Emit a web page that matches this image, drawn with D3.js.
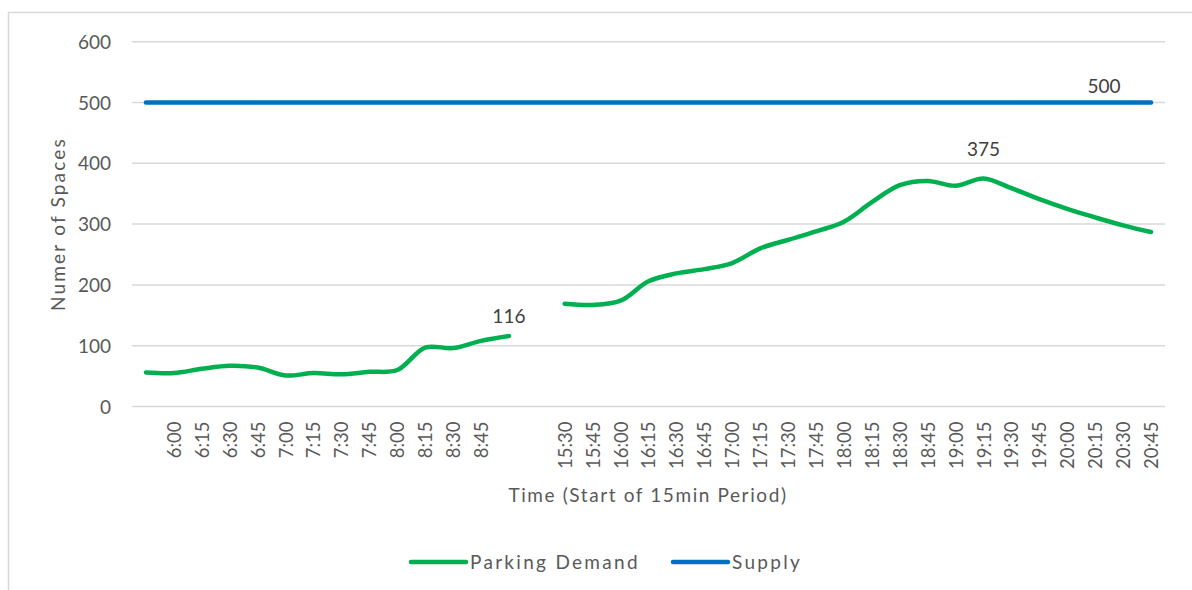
<!DOCTYPE html>
<html><head><meta charset="utf-8">
<script src="https://cdn.jsdelivr.net/npm/d3@7"></script>
<style>
html,body{margin:0;padding:0;background:#fff;}
svg text{font-family:"Lato","Noto Sans",sans-serif;fill:#595959;}
</style></head>
<body>
<svg id="c" width="1192" height="590"></svg>
<script>
const tickLabels = ["", "6:00","6:15","6:30","6:45","7:00","7:15","7:30","7:45","8:00","8:15","8:30","8:45", "", "",
  "15:30","15:45","16:00","16:15","16:30","16:45","17:00","17:15","17:30","17:45","18:00","18:15","18:30","18:45",
  "19:00","19:15","19:30","19:45","20:00","20:15","20:30","20:45"];
const demand = [56,55,62,67,64,51,55,53,57,60,97,96,108,116, null,
  169,167,174,206,219,226,236,260,274,288,304,336,364,371,363,375,359,341,325,311,298,287];
const supply = tickLabels.map(() => 500);
const yTicks = [0,100,200,300,400,500,600];
const dataLabels = [{series:"demand", index:13, text:"116"}, {series:"demand", index:30, text:"375"}, {series:"supply", index:36, text:"500"}];

const svg = d3.select("#c");
svg.append("rect").attr("x",8.5).attr("y",12.5).attr("width",1200).attr("height",600)
  .attr("fill","none").attr("stroke","#d9d9d9").attr("stroke-width",1.5);

const x = d3.scalePoint().domain(d3.range(tickLabels.length)).range([132,1165]).padding(0.5);
const y = d3.scaleLinear().domain([0,600]).range([406.5,41.7]);

// gridlines
svg.append("g").selectAll("line").data(yTicks).join("line")
  .attr("x1",132).attr("x2",1165).attr("y1",d=>y(d)).attr("y2",d=>y(d))
  .attr("stroke","#d9d9d9").attr("stroke-width",1.5);

// y axis labels
const yAxis = d3.axisLeft(y).tickValues(yTicks).tickSize(0).tickPadding(0);
const gy = svg.append("g").attr("transform","translate(111,0)").call(yAxis);
gy.select(".domain").remove();
gy.selectAll("text").attr("font-size",19).attr("dy","0.35em").style("font-family",null);

// x axis labels
const xAxis = d3.axisBottom(x).tickFormat(i=>tickLabels[i]).tickSize(0).tickPadding(0);
const gx = svg.append("g").attr("transform","translate(0,406.5)").call(xAxis);
gx.select(".domain").remove();
gx.selectAll("text").attr("font-size",18.5).attr("text-anchor","end")
  .attr("transform","translate(0,15) rotate(-90)").attr("x",0).attr("y",0).attr("dy","0.35em").attr("dx",0)
  .style("font-family",null);

// lines
const line = d3.line().defined(d=>d.v!=null).x(d=>x(d.i)).y(d=>y(d.v)).curve(d3.curveCatmullRom.alpha(0.5));
svg.append("path").datum(supply.map((v,i)=>({i,v}))).attr("d",line)
  .attr("fill","none").attr("stroke","#0070C0").attr("stroke-width",4.5).attr("stroke-linecap","round");
svg.append("path").datum(demand.map((v,i)=>({i,v}))).attr("d",line)
  .attr("fill","none").attr("stroke","#00B050").attr("stroke-width",4.5).attr("stroke-linecap","round").attr("stroke-linejoin","round");

// data labels
const offs = {"116":[0,-13], "375":[0,-23], "500":[-47,-10]};
dataLabels.forEach(l=>{
  const v = l.series==="demand" ? demand[l.index] : supply[l.index];
  svg.append("text").attr("x",x(l.index)+offs[l.text][0]).attr("y",y(v)+offs[l.text][1])
    .attr("text-anchor","middle").attr("font-size",19).style("fill","#404040").text(l.text);
});

// axis titles
svg.append("text").attr("transform","translate(58,224) rotate(-90)").attr("text-anchor","middle")
  .attr("dy","0.35em").attr("font-size",19).attr("letter-spacing",2.2).text("Numer of Spaces");
svg.append("text").attr("x",648).attr("y",495).attr("text-anchor","middle")
  .attr("dy","0.35em").attr("font-size",19).attr("letter-spacing",1.6).text("Time (Start of 15min Period)");

// legend
const legend = [{name:"Parking Demand", color:"#00B050", x:411},{name:"Supply", color:"#0070C0", x:673}];
const lg = svg.append("g").selectAll("g").data(legend).join("g").attr("transform",d=>`translate(${d.x},562)`);
lg.append("line").attr("x1",0).attr("x2",55).attr("stroke",d=>d.color).attr("stroke-width",4.5).attr("stroke-linecap","round");
lg.append("text").attr("x",59).attr("dy","0.35em").attr("font-size",19).attr("letter-spacing",2.3).text(d=>d.name);
</script>
</body></html>
